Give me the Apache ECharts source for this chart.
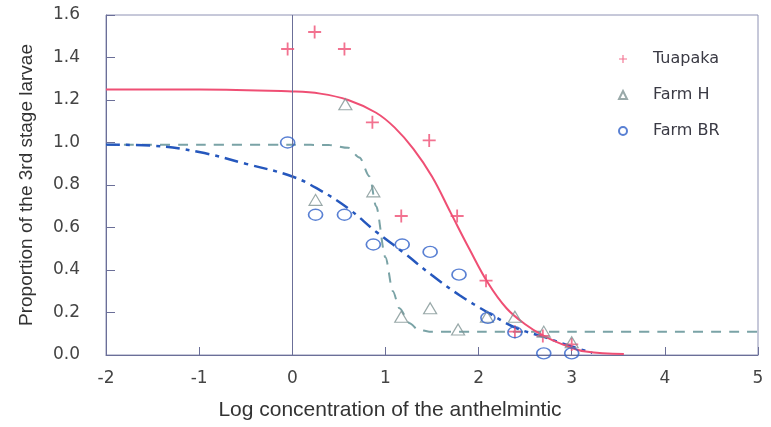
<!DOCTYPE html>
<html>
<head>
<meta charset="utf-8">
<script src="https://cdn.jsdelivr.net/npm/echarts@6/dist/echarts.min.js"></script>
<style>html,body{margin:0;padding:0;background:#fff;}#c{width:771px;height:427px;}</style>
</head>
<body>
<div id="c"></div>
<script>
// ---- data ----
var seriesNames = ['Tuapaka', 'Farm H', 'Farm BR'];
var xTicks = [-2, -1, 0, 1, 2, 3, 4, 5];
var yTicks = [0.0, 0.2, 0.4, 0.6, 0.8, 1.0, 1.2, 1.4, 1.6];

// observed points [log concentration, proportion]
var tuapakaPoints = [[-0.05,1.44],[0.24,1.52],[0.56,1.44],[0.86,1.095],[1.17,0.654],[1.47,1.01],[1.77,0.654],[2.08,0.35],[2.39,0.11],[2.69,0.09],[3.0,0.05]];
var farmHPoints = [[0.25,0.73],[0.57,1.18],[0.87,0.77],[1.17,0.18],[1.48,0.22],[1.78,0.12],[2.09,0.18],[2.39,0.18],[2.7,0.11],[3.0,0.06]];
var farmBRPoints = [[-0.05,1.0],[0.25,0.66],[0.56,0.66],[0.87,0.52],[1.18,0.52],[1.48,0.485],[1.79,0.378],[2.1,0.175],[2.39,0.107],[2.7,0.008],[3.0,0.008]];

// fitted curves
var tuapakaCurveX = [-2, -1, 0, 0.3, 0.6, 0.9, 1.1, 1.3, 1.5, 1.7, 1.9, 2.1, 2.3, 2.5, 2.7, 2.9, 3.15, 3.56];
var tuapakaCurveY = [1.25, 1.25, 1.24, 1.23, 1.20, 1.14, 1.07, 0.97, 0.84, 0.67, 0.50, 0.34, 0.22, 0.145, 0.09, 0.05, 0.016, 0.005];
var farmHCurveX = [-2, -1, 0, 0.4, 0.6, 0.72, 0.83, 0.9, 1.0, 1.08, 1.15, 1.26, 1.35, 1.47, 2, 3, 4, 5];
var farmHCurveY = [0.99, 0.99, 0.99, 0.988, 0.975, 0.93, 0.84, 0.70, 0.46, 0.30, 0.22, 0.15, 0.12, 0.11, 0.11, 0.11, 0.11, 0.11];
var farmBRCurveX = [-2, -1.5, -1, -0.5, 0, 0.3, 0.6, 0.9, 1.2, 1.5, 1.8, 2.1, 2.4, 2.7, 3.0, 3.22];
var farmBRCurveY = [0.99, 0.985, 0.955, 0.90, 0.84, 0.775, 0.69, 0.58, 0.48, 0.375, 0.28, 0.20, 0.128, 0.085, 0.04, 0.01];

function zip(xs, ys) { return xs.map(function (x, i) { return [x, ys[i]]; }); }

var axisColor = '#6b6f98';
var font = 'Liberation Sans, Arial, sans-serif';
var numFont = 'DejaVu Sans, sans-serif';
var pink = '#ef4f74', gray = '#7f9494', teal = '#7aa3a6', blue = '#2f60c8', blueLine = '#2557bd';
var plusPath = 'path://M4.3,0h1.4v4.3h4.3v1.4h-4.3v4.3h-1.4v-4.3h-4.3v-1.4h4.3z';

var chart = echarts.init(document.getElementById('c'), null, {renderer: 'canvas'});
chart.setOption({
  animation: false,
  backgroundColor: '#fff',
  grid: {left: 106, right: 13, top: 15, bottom: 72, show: true, borderColor: '#8e92b4', borderWidth: 1},
  legend: {
    orient: 'vertical', left: 613, top: 46, itemGap: 20, itemWidth: 8, itemHeight: 8,
    data: seriesNames,
    textStyle: {fontFamily: numFont, fontSize: 16, color: '#3a3a44', padding: [0, 0, 0, 21]}
  },
  xAxis: {
    type: 'value', min: xTicks[0], max: xTicks[xTicks.length - 1], interval: 1,
    name: 'Log concentration of the anthelmintic', nameLocation: 'middle', nameGap: 45,
    nameTextStyle: {fontFamily: font, fontSize: 21, color: '#333', padding: [0, 84, 0, 0]},
    axisLine: {onZero: false, lineStyle: {color: axisColor}},
    axisTick: {inside: true, length: 8, lineStyle: {color: axisColor}},
    axisLabel: {fontFamily: numFont, fontSize: 17, color: '#444', margin: 15, formatter: function (v) { return String(v); }},
    splitLine: {show: false}
  },
  yAxis: {
    type: 'value', min: yTicks[0], max: yTicks[yTicks.length - 1], interval: 0.2,
    name: 'Proportion of the 3rd stage larvae', nameLocation: 'middle', nameGap: 70,
    nameTextStyle: {fontFamily: font, fontSize: 19, color: '#333'},
    axisLine: {onZero: false, lineStyle: {color: axisColor}},
    axisTick: {inside: true, length: 9, lineStyle: {color: axisColor}},
    axisLabel: {fontFamily: numFont, fontSize: 17, color: '#444', margin: 26, formatter: function (v) { return v.toFixed(1); }},
    splitLine: {show: false}
  },
  series: [
    {
      name: 'Farm H curve', type: 'line', data: zip(farmHCurveX, farmHCurveY), showSymbol: false,
      smooth: 0.3, smoothMonotone: 'x', lineStyle: {color: teal, width: 2, type: [10, 8]}, silent: true, z: 2
    },
    {
      name: 'Farm BR curve', type: 'line', data: zip(farmBRCurveX, farmBRCurveY), showSymbol: false,
      smooth: 0.4, lineStyle: {color: blueLine, width: 2.5, type: [14, 6, 4, 6]}, silent: true, z: 3
    },
    {
      name: 'Tuapaka curve', type: 'line', data: zip(tuapakaCurveX, tuapakaCurveY), showSymbol: false,
      smooth: 0.4, lineStyle: {color: pink, width: 2}, silent: true, z: 4,
      markLine: {
        silent: true, symbol: ['none', 'none'], label: {show: false},
        lineStyle: {color: axisColor, width: 1, type: 'solid'},
        data: [{xAxis: 0}]
      }
    },
    {
      name: 'Tuapaka', type: 'scatter', data: tuapakaPoints, symbol: plusPath, symbolSize: 13,
      itemStyle: {color: pink}, z: 5
    },
    {
      name: 'Farm H', type: 'scatter', data: farmHPoints, symbol: 'triangle', symbolSize: [13, 11],
      itemStyle: {color: 'rgba(255,255,255,0)', borderColor: gray, borderWidth: 1.2}, z: 5
    },
    {
      name: 'Farm BR', type: 'scatter', data: farmBRPoints, symbol: 'circle', symbolSize: [14, 11],
      itemStyle: {color: 'rgba(255,255,255,0)', borderColor: blue, borderWidth: 1.5}, z: 5
    }
  ]
});
</script>
</body>
</html>
